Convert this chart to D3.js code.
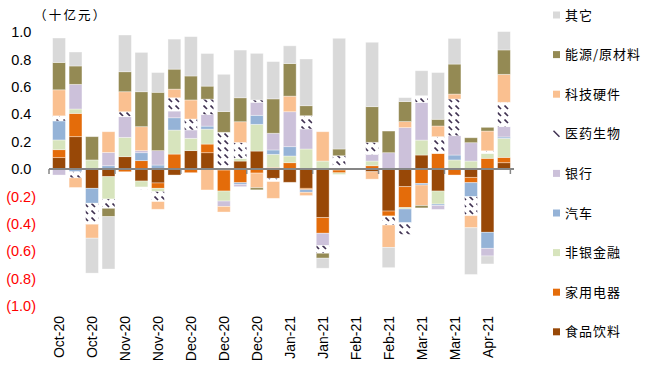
<!DOCTYPE html>
<html>
<head>
<meta charset="utf-8">
<script src="https://cdn.jsdelivr.net/npm/d3@7"></script>
<style>
  html, body { margin: 0; padding: 0; background: #fff; }
  svg { display: block; }
</style>
</head>
<body>
<svg id="chart" width="645" height="368"></svg>
<script>
// ---------------- data ----------------
const weekLabels = ["Oct-20","Oct-20","Oct-20","Oct-20","Nov-20","Nov-20","Nov-20","Nov-20",
  "Dec-20","Dec-20","Dec-20","Dec-20","Dec-20","Dec-20","Jan-21","Jan-21","Jan-21","Jan-21",
  "Feb-21","Feb-21","Feb-21","Feb-21","Mar-21","Mar-21","Mar-21","Mar-21","Apr-21","Apr-21"];
const seriesNames = ["食品饮料","家用电器","非银金融","汽车","银行","医药生物","科技硬件","能源/原材料","其它"];
const foodBev   = [0.083,0.236,-0.141,-0.056,0.090,-0.088,-0.102,-0.044,0.134,0.119,-0.008,0.058,0.131,-0.068,-0.097,-0.141,-0.355,-0.008,0,-0.020,-0.307,-0.129,0.102,-0.161,0,-0.061,-0.462,0.046];
const appliance = [0.058,0.170,0,0,-0.020,0.061,-0.039,0.109,-0.027,0.063,-0.153,-0.100,-0.030,0.012,0.046,-0.010,-0.114,-0.020,0,0.024,-0.036,-0.153,-0.105,0.114,-0.044,-0.039,0.078,0.039];
const nonBank   = [0.071,0.032,0.066,-0.163,0.141,-0.044,-0.024,0.175,0.090,0.109,-0.073,0.019,0.195,0.095,0.049,0.146,0.058,-0.012,0,0.034,0,-0.010,0.109,-0.095,0.066,0.058,0.036,0.139];
const auto      = [0.139,-0.020,-0.109,0.024,0,0.058,0.029,0.090,0,0.022,0,-0.012,0.066,0.032,0.068,-0.019,0,0,0,0,0,-0.100,-0.012,-0.010,0.036,-0.102,-0.117,0.010];
const bank      = [-0.044,0.180,0,0.097,0.151,0.015,0.105,0.049,0.061,0.085,-0.039,-0.017,0.095,0.122,0.255,0.146,-0.090,0,0,0.049,0.119,0.302,0.275,-0.029,0.141,0.134,-0.056,0.075];
const pharma    = [0.037,-0.045,-0.153,-0.068,0.036,-0.015,-0.073,0.097,0.080,0.112,0.268,0.117,0.017,-0.024,0,0.097,-0.056,0.097,0,0.088,-0.066,-0.085,0.049,0.122,0.268,-0.139,0.019,0.178];
const techHw    = [0.190,-0.070,-0.102,0.151,0.146,0.175,-0.056,0.063,0.139,-0.153,-0.041,0.151,-0.107,-0.122,0.114,-0.024,0.214,0,0,-0.054,-0.163,0.044,-0.150,0.078,0.036,-0.088,0.144,0.204];
const energy    = [0.200,0.134,0.170,-0.061,0.146,0.255,0.426,0.146,0.175,0.095,0.151,0.175,-0.015,0.251,0.238,0.073,-0.036,0.049,0,0.260,0.158,0.146,-0.017,0.049,0.219,0.036,0.027,0.178];
const other     = [0.178,0.102,-0.255,-0.382,0.268,0.287,0.144,0.219,0.287,0.238,0.272,0.348,0.340,0.272,0.129,0.341,-0.073,0.808,0,0.470,-0.148,0.029,0.182,0.341,0.187,-0.341,-0.058,0.134];
const yTicks = [1.0,0.8,0.6,0.4,0.2,0.0,-0.2,-0.4,-0.6,-0.8,-1.0];
const unitLabel = "（十亿元）";

const seriesValues = [foodBev, appliance, nonBank, auto, bank, pharma, techHw, energy, other];
const colors = ["#984807","#E46C0A","#D7E4BD","#95B3D7","#CCC1DA","url(#hatch)","#FAC090","#948A54","#D9D9D9"];

// ---------------- chart ----------------
const svg = d3.select("#chart");
const latin = "'Liberation Sans', Arial, sans-serif";
const cjk = "'Noto Sans CJK SC', sans-serif";

const defs = svg.append("defs");
const pat = defs.append("pattern").attr("id","hatch").attr("patternUnits","userSpaceOnUse")
  .attr("width",7).attr("height",7);
pat.append("rect").attr("width",7).attr("height",7).attr("fill","#fff");
pat.append("line").attr("x1",0.5).attr("y1",0.5).attr("x2",4).attr("y2",4)
  .attr("stroke","#3F3151").attr("stroke-width",1.7);

const idx = d3.range(weekLabels.length);
const x = d3.scaleBand().domain(idx).range([49, 514]).padding(0.22);
const y = d3.scaleLinear().domain([-1, 1]).range([306, 32]);

const table = idx.map(i => {
  const row = {i};
  seriesNames.forEach((s, k) => row[s] = seriesValues[k][i]);
  return row;
});
const stack = d3.stack().keys(seriesNames).offset(d3.stackOffsetDiverging);
const layers = stack(table);

layers.forEach((layer, k) => {
  svg.append("g").attr("fill", colors[k])
    .selectAll("rect").data(layer).join("rect")
    .attr("x", d => x(d.data.i))
    .attr("width", x.bandwidth())
    .attr("y", d => y(Math.max(d[0], d[1])))
    .attr("height", d => Math.abs(y(d[0]) - y(d[1])))
    .attr("stroke", "#ffffff").attr("stroke-opacity", 0.45).attr("stroke-width", 0.8);
});

// y labels
const yl = svg.append("g").attr("font-family", latin).attr("font-size", 14.5);
yl.selectAll("text").data(yTicks).join("text")
  .attr("x", d => d < 0 ? 36 : 31.3)
  .attr("y", d => y(d)).attr("dy", "0.36em")
  .attr("text-anchor", "end")
  .attr("fill", d => d < 0 ? "#FF0000" : "#000")
  .text(d => d < 0 ? "(" + d3.format(".1f")(-d) + ")" : d3.format(".1f")(d));

// zero axis
const axisG = svg.append("g").attr("transform", `translate(0,${y(0)})`);
axisG.call(d3.axisBottom(x).tickValues(idx.filter(i => i % 4 === 0)).tickSize(0).tickFormat(""))
  .call(g => g.select(".domain").remove());
axisG.append("line").attr("x1", 49).attr("x2", 514).attr("stroke", "#868686").attr("stroke-width", 2);
const tickPos = d3.range(0, weekLabels.length + 1, 4).map(i => 49 + i * x.step());
axisG.selectAll("line.tk").data(tickPos).join("line").attr("class","tk")
  .attr("x1", d => d).attr("x2", d => d).attr("y1", 0).attr("y2", 5)
  .attr("stroke", "#868686").attr("stroke-width", 1.5);

// x labels
svg.append("g").attr("font-family", latin).attr("font-size", 14)
  .selectAll("text").data(idx.filter(i => i % 2 === 0)).join("text")
  .attr("transform", i => `translate(${x(i) + x.bandwidth() / 2},316) rotate(-90)`)
  .attr("text-anchor", "end").attr("dy", "0.36em").attr("fill", "#000")
  .text(i => weekLabels[i]);

// unit label
svg.append("text").attr("x", 34).attr("y", 16).attr("dy", "0.35em")
  .attr("font-family", cjk).attr("font-size", 12.5).attr("letter-spacing", 2.2).attr("fill", "#000")
  .text(unitLabel);

// legend
const legendOrder = seriesNames.map((s, k) => k).reverse();
const lg = svg.append("g");
legendOrder.forEach((k, j) => {
  const ly = 15 + j * 39.6;
  if (seriesNames[k] === "医药生物") {
    lg.append("line").attr("x1", 553.5).attr("y1", ly - 3).attr("x2", 559.5).attr("y2", ly + 3)
      .attr("stroke", "#3F3151").attr("stroke-width", 1.5);
  } else {
    lg.append("rect").attr("x", 553).attr("y", ly - 3.5).attr("width", 7).attr("height", 7)
      .attr("fill", colors[k]);
  }
  lg.append("text").attr("x", 565).attr("y", ly).attr("dy", "0.36em")
    .attr("font-family", cjk).attr("font-size", 13).attr("letter-spacing", 1).attr("fill", "#000")
    .text(seriesNames[k]);
});
</script>
</body>
</html>
